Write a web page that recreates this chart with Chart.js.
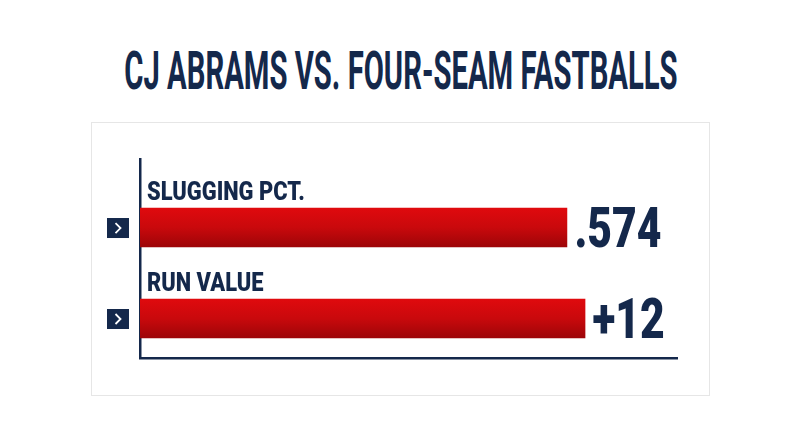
<!DOCTYPE html>
<html>
<head>
<meta charset="utf-8">
<title>CJ Abrams vs. four-seam fastballs</title>
<script src="https://cdn.jsdelivr.net/npm/chart.js@4/dist/chart.umd.min.js"></script>
<style>
    html, body { margin: 0; padding: 0; background: #fff; overflow: hidden; }
    #titulo {
        position: absolute; left: 400.5px; top: 36px; margin: 0;
        color: #14284b; white-space: nowrap;
        font: 700 53px/70px Roboto, sans-serif;
        transform: translateX(-50%) scaleX(0.552);
    }
    #panel { position: absolute; left: 91px; top: 122px; width: 617px; height: 272px; border: 1px solid #e6e6e6; }
    #lienzo { position: absolute; left: 0; top: 0; }
</style>
</head>
<body>
<h1 id="titulo">CJ ABRAMS VS. FOUR-SEAM FASTBALLS</h1>
<div id="panel"></div>
<canvas id="lienzo" width="800" height="447"></canvas>
<script>
const categorias = ['SLUGGING PCT.', 'RUN VALUE'];
const posiciones = [1, 2];
const sluggingValor = [0.574];
const runValor = [12];
const etiquetasValor = ['.574', '+12'];

const AZUL = '#14284b';
const FUENTE = 'Roboto, sans-serif';

function degradado(ctx) {
    const { chart, parsed } = ctx;
    if (!chart.chartArea || !parsed) return '#c80a0c';
    const y = chart.scales.y.getPixelForValue(parsed.y);
    const g = chart.ctx.createLinearGradient(0, y - 20, 0, y + 20);
    g.addColorStop(0, '#e00a0e');
    g.addColorStop(0.5, '#c9090c');
    g.addColorStop(1, '#9c0508');
    return g;
}

function textoEstrecho(c, texto, x, y, size, escala, peso) {
    c.save();
    c.translate(x, y);
    c.scale(escala, 1);
    c.font = `${peso} ${size}px ${FUENTE}`;
    c.fillStyle = AZUL;
    c.textBaseline = 'alphabetic';
    c.textAlign = 'left';
    c.fillText(texto, 0, 0);
    c.restore();
}

const rotulos = {
    id: 'rotulos',
    afterDatasetsDraw(chart) {
        const c = chart.ctx;
        const y = chart.scales.y;
        categorias.forEach((cat, i) => {
            const centro = y.getPixelForValue(posiciones[i]);
            const barra = chart.getDatasetMeta(i).data[0];

            // nombre de la metrica encima de la barra
            textoEstrecho(c, cat, 147, centro - 28, 25, 0.875, 900);
            // valor al final de la barra
            textoEstrecho(c, etiquetasValor[i], barra.x + 7.5, centro + 19.5, 55, 0.775, 900);

            // cuadrito con flecha a la izquierda del eje
            c.fillStyle = AZUL;
            c.fillRect(107, centro - 9.5, 22, 20);
            c.strokeStyle = '#fff';
            c.lineWidth = 1.8;
            c.beginPath();
            c.moveTo(115.5, centro - 4.5);
            c.lineTo(120.5, centro + 0.5);
            c.lineTo(115.5, centro + 5.5);
            c.stroke();
        });
    }
};

new Chart(document.getElementById('lienzo'), {
    type: 'bar',
    plugins: [rotulos],
    data: {
        datasets: [
            { label: categorias[0], data: [{ x: sluggingValor[0], y: posiciones[0] }], xAxisID: 'x', backgroundColor: degradado },
            { label: categorias[1], data: [{ x: runValor[0], y: posiciones[1] }], xAxisID: 'x2', backgroundColor: degradado }
        ]
    },
    options: {
        indexAxis: 'y',
        responsive: false,
        animation: false,
        grouped: false,
        barThickness: 39,
        layout: { padding: { left: 140, top: 159, right: 123, bottom: 89 } },
        plugins: { legend: { display: false }, title: { display: false }, tooltip: { enabled: false } },
        scales: {
            x: {
                min: 0, max: 0.722,
                ticks: { display: false },
                grid: { display: false, drawTicks: false },
                border: { color: AZUL, width: 2.5 }
            },
            x2: { display: false, min: 0, max: 14.48 },
            y: {
                type: 'linear',
                offset: false,
                min: 0.247, max: 2.434,
                reverse: true,
                ticks: { display: false },
                grid: { display: false, drawTicks: false },
                border: { color: AZUL, width: 2.5 }
            }
        }
    }
});
</script>
</body>
</html>
